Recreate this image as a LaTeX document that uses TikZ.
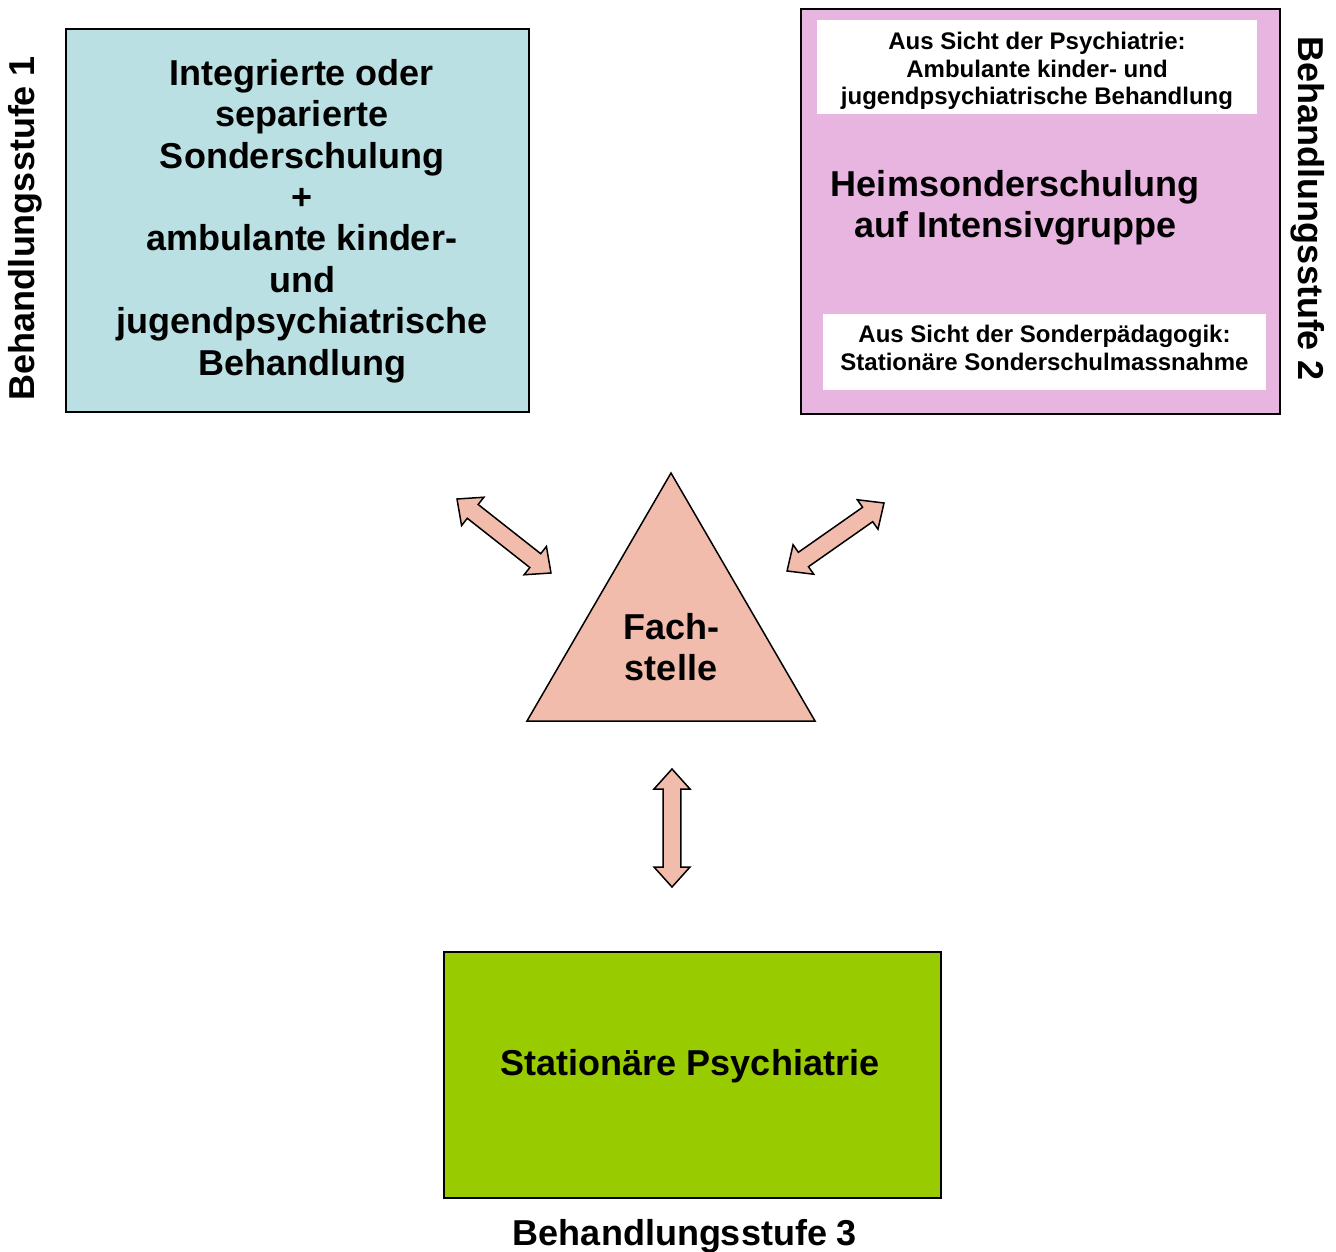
\documentclass[tikz,border=0pt]{standalone}
\usepackage{fontspec}
\setmainfont{Liberation Sans}
\usetikzlibrary{positioning,calc}

\definecolor{stufeeins}{RGB}{187,224,227}
\definecolor{stufezwei}{RGB}{232,180,224}
\definecolor{fachrot}{RGB}{242,188,173}
\definecolor{stufedrei}{RGB}{153,204,0}

% block double arrow between two named points
\newcommand{\dblarrow}[2]{%
  \draw[blk] let \p1=($(#2)-(#1)$), \n1={atan2(\y1,\x1)}, \n2={veclen(\x1,\y1)} in
    [shift={(#1)}, rotate=\n1]
    (0pt,0pt) -- (10pt,9pt) -- (10pt,4.4pt) -- ({\n2-10pt},4.4pt) -- ({\n2-10pt},9pt)
    -- ({\n2},0pt) -- ({\n2-10pt},-9pt) -- ({\n2-10pt},-4.4pt) -- (10pt,-4.4pt)
    -- (10pt,-9pt) -- cycle;}

\begin{document}
\begin{tikzpicture}[
  x=0.5pt, y=-0.5pt,
  font=\bfseries,
  big/.style={font=\fontsize{18}{20.7}\selectfont\bfseries, align=center},
  small/.style={font=\fontsize{12}{13.8}\selectfont\bfseries, align=center},
  box/.style={rectangle, draw=black, line width=1pt, inner sep=0pt},
  white/.style={rectangle, fill=white, inner sep=0pt},
  blk/.style={draw=black, line width=0.75pt, fill=fachrot, line join=miter}
]
\useasboundingbox (0,0) rectangle (1336,1251);

% Behandlungsstufe 1
\node[box, fill=stufeeins, minimum width=231.5pt, minimum height=191.5pt] (eins) at (297.5,220.5) {};
\node[big] (einstxt) at (302,221) {Integrierte oder\\separierte\\Sonderschulung\\+\\ambulante kinder-\\und\\jugendpsychiatrische\\Behandlung};
\node[big, rotate=90] (einslab) at (25,228) {Behandlungsstufe 1};

% Behandlungsstufe 2
\node[box, fill=stufezwei, minimum width=239.5pt, minimum height=202.5pt] (zwei) at (1040.5,211.5) {};
\node[white, minimum width=220pt, minimum height=47pt] (psybox) at (1037,67) {};
\node[small] (psy) at (1037,71) {Aus Sicht der Psychiatrie:\\Ambulante kinder- und\\jugendpsychiatrische Behandlung};
\node[big] (zweitxt) at (1015,208) {Heimsonderschulung\\auf Intensivgruppe};
\node[white, minimum width=221.5pt, minimum height=38pt] (paedbox) at (1044.5,352) {};
\node[small] (paed) at (1044.5,348) {Aus Sicht der Sonderpädagogik:\\Stationäre Sonderschulmassnahme};
\node[big, rotate=-90] (zweilab) at (1308,209) {Behandlungsstufe 2};

% Fachstelle
\coordinate (ftop) at (671,473);
\coordinate (fright) at (815,721);
\coordinate (fleft) at (527,721);
\draw[fill=fachrot, draw=black, line width=0.75pt] (ftop) -- (fright) -- (fleft) -- cycle;
\node[big] (fach) at (671,647) {Fach-\\stelle};

% Behandlungsstufe 3
\node[box, fill=stufedrei, minimum width=248.5pt, minimum height=123pt] (drei) at (692.5,1075) {};
\node[big] (dreitxt) at (690,1066) {Stationäre Psychiatrie};
\node[big] (dreilab) at (685,1236) {Behandlungsstufe 3};

% Pfeile
\coordinate (pl1) at (457,499);
\coordinate (pl2) at (551,573);
\coordinate (pr1) at (884,503);
\coordinate (pr2) at (787,571);
\coordinate (pu1) at (672,769);
\coordinate (pu2) at (672,887);
\dblarrow{pl1}{pl2}
\dblarrow{pr1}{pr2}
\dblarrow{pu1}{pu2}
\end{tikzpicture}
\end{document}
